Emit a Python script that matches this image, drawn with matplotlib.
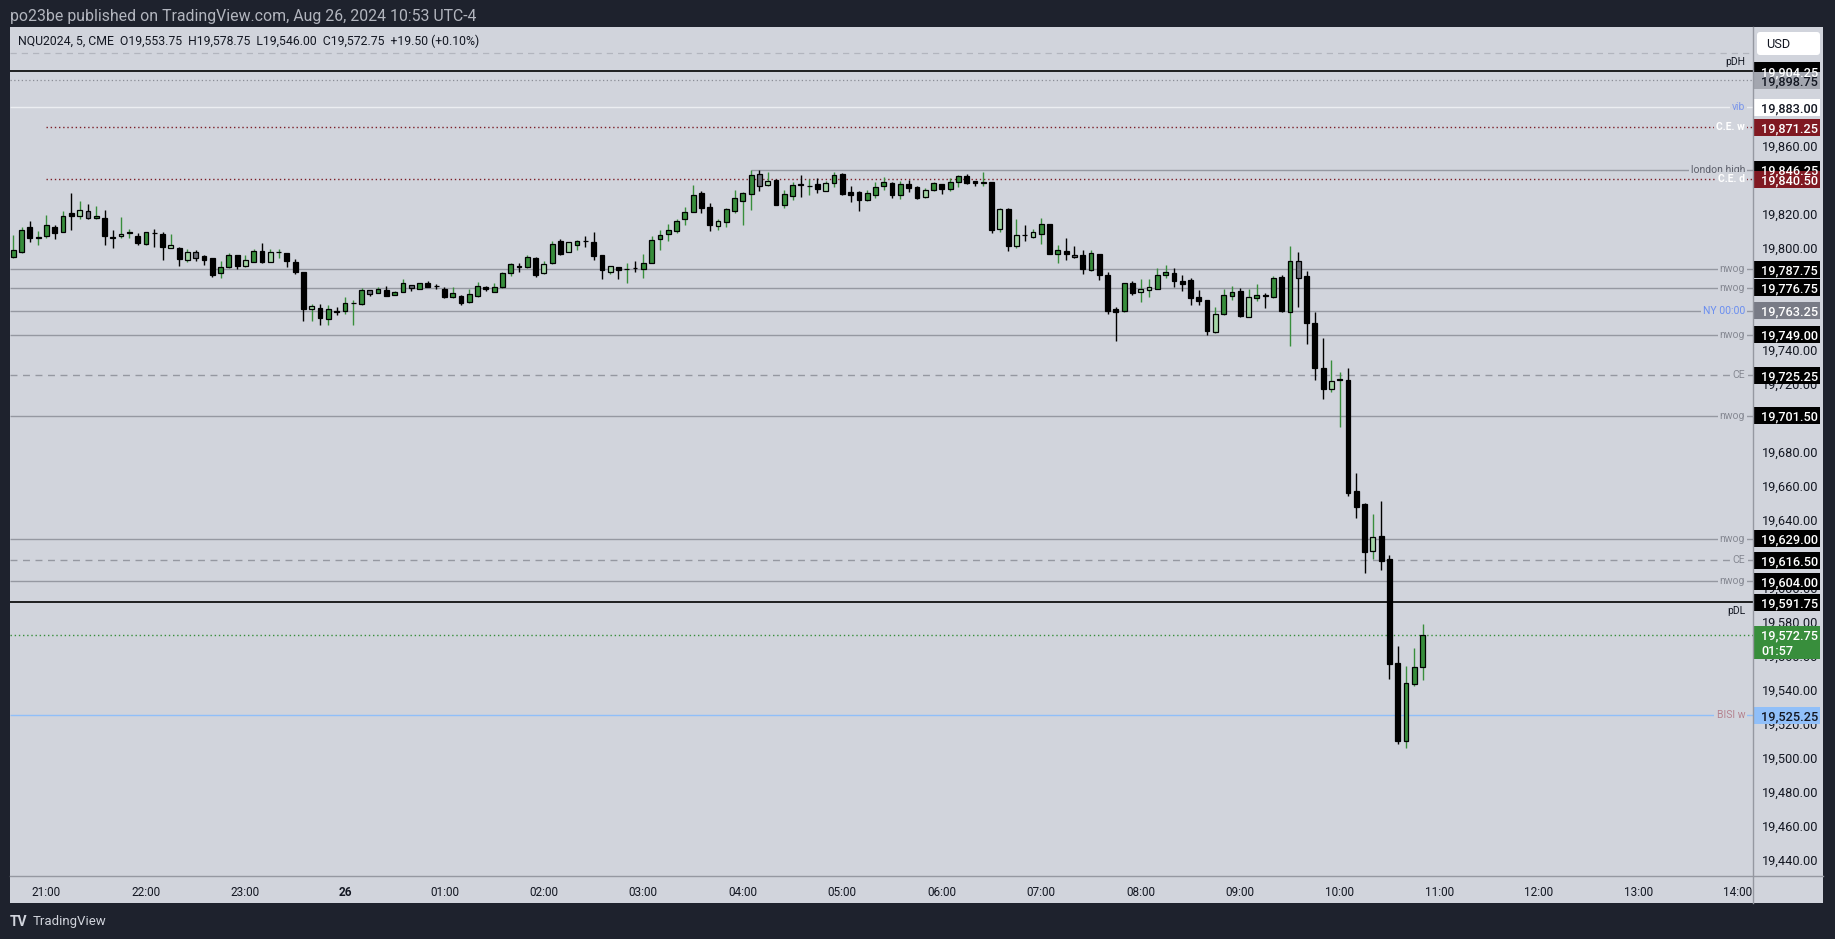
# NQU2024 5-min candles with level lines, TradingView style

import numpy as np
import pandas as pd
import matplotlib
matplotlib.use('Agg')
import matplotlib.pyplot as plt
from matplotlib.patches import Rectangle, FancyBboxPatch
from matplotlib.lines import Line2D
from matplotlib.transforms import Affine2D, blended_transform_factory

plt.rcParams['font.family'] = ['Roboto', 'DejaVu Sans']

W, H = 1835, 939
BG = '#1e222d'
PANEL = '#d1d4dc'

# bars start 2024-08-25 20:40, 5 min each
opens = [19795, 19797.5, 19812.25, 19806, 19807.25, 19812.25, 19809.75, 19820.75, 19819, 19821.75,
         19817.5, 19817.5, 19806.5, 19807, 19808.75, 19807.25, 19802.75, 19809, 19808.25, 19800.25,
         19800, 19793.25, 19797.75, 19795.25, 19794.25, 19785.5, 19789, 19795.75, 19789.75, 19792,
         19798.25, 19792, 19797.5, 19797.25, 19791.75, 19786, 19764.25, 19764.75, 19758.5, 19762.75,
         19763.25, 19767.5, 19767.25, 19775.25, 19773.75, 19775.25, 19772.75, 19774.25, 19778.25, 19776.25,
         19779.25, 19777.5, 19776, 19771, 19772, 19768.5, 19772, 19777, 19774.5, 19777,
         19785.5, 19789.25, 19788.75, 19794.5, 19785.25, 19791, 19804.25, 19797.75, 19802, 19804.25,
         19803.5, 19796, 19786, 19788.75, 19787.5, 19788.5, 19788, 19791.25, 19805.5, 19808.5,
         19810.25, 19817.25, 19821.5, 19832.5, 19824.25, 19813.25, 19815.5, 19822, 19828, 19832,
         19843.5, 19837, 19840, 19825.5, 19830.75, 19837.5, 19836.5, 19837.75, 19833.75, 19838.5,
         19843.5, 19833, 19833, 19828.25, 19831.5, 19836.75, 19838.25, 19831.5, 19837.75, 19836,
         19830.25, 19834.5, 19837.75, 19835, 19839, 19842.5, 19839.5, 19838.5, 19839, 19811.5,
         19823, 19801.5, 19807.75, 19806.75, 19808.5, 19814.25, 19796.75, 19798.25, 19796.25, 19796,
         19787.25, 19796.5, 19784, 19764, 19763, 19779.25, 19774.5, 19775.25, 19776, 19784,
         19785.5, 19780.5, 19781, 19771.25, 19769.25, 19750.75, 19761, 19772, 19774.75, 19759.75,
         19770.75, 19772.25, 19771.5, 19783, 19762.5, 19792.75, 19783.5, 19755.75, 19729.75, 19717,
         19722.5, 19722.75, 19657, 19649.25, 19621.75, 19630.5, 19617, 19555.75, 19510, 19543.5,
         19553.75]
highs = [19807.75, 19812.25, 19816, 19810, 19819.5, 19813.5, 19821.75, 19832.5, 19827.75, 19826,
         19824.75, 19822.5, 19810.75, 19818.25, 19811.25, 19808.75, 19809.5, 19811.25, 19809.5, 19808.25,
         19800.75, 19799.75, 19798.75, 19796.25, 19794.25, 19792.5, 19797, 19796, 19796, 19799.5,
         19803, 19799.75, 19799.75, 19797.25, 19793.5, 19786.25, 19767, 19767.25, 19766.5, 19765.25,
         19771.25, 19769.5, 19776.5, 19775.25, 19777, 19777.75, 19775, 19781.75, 19778.25, 19779.75,
         19780.75, 19778.75, 19777, 19777, 19772.5, 19775.75, 19780, 19778, 19779.25, 19786,
         19791.5, 19791, 19796, 19794.75, 19792.25, 19804.25, 19805.25, 19803.75, 19804.75, 19807,
         19809.5, 19796, 19789.25, 19788.75, 19791, 19792.25, 19796.5, 19807, 19810.5, 19814.25,
         19817, 19824.25, 19837, 19833.5, 19826.5, 19817, 19823.5, 19834, 19833, 19846.25,
         19846, 19844.75, 19840.5, 19834.25, 19839, 19843, 19840.5, 19841.25, 19839.25, 19844.75,
         19844, 19836.5, 19833.5, 19834.5, 19839, 19841.75, 19838.75, 19839.5, 19840, 19836.5,
         19835.25, 19839, 19837.75, 19841.25, 19843, 19843.5, 19839.5, 19844.75, 19839, 19823.5,
         19823.5, 19817, 19813.5, 19811, 19817.5, 19814.5, 19801.75, 19806, 19801, 19799,
         19799, 19796.75, 19786, 19765.25, 19779.5, 19780.75, 19781.75, 19781.75, 19788.25, 19790,
         19788.25, 19784.25, 19782.5, 19775.25, 19769.5, 19765.25, 19776, 19777.75, 19776.5, 19776,
         19779, 19773.5, 19783.5, 19784.25, 19801.5, 19797.5, 19786.5, 19762.25, 19747, 19734,
         19727, 19729.75, 19668, 19650, 19643.5, 19651.5, 19619.25, 19565.75, 19554.5, 19565,
         19578.75]
lows = [19794, 19797.25, 19803.75, 19801.75, 19806.25, 19805.25, 19809.25, 19810.75, 19817.25, 19817.25,
        19817.25, 19801.75, 19800, 19806.25, 19806, 19801.75, 19802, 19800.75, 19793, 19800.25,
        19789.5, 19791.75, 19792.5, 19790.25, 19783.25, 19782.75, 19788.5, 19787.75, 19788.75, 19791.75,
        19791.25, 19792, 19794.25, 19788.75, 19784.75, 19757.25, 19757.25, 19754.75, 19754.75, 19760.5,
        19761.5, 19754.75, 19766.5, 19772, 19773.5, 19772, 19772.75, 19774.25, 19775, 19776.25,
        19777.25, 19776, 19770.75, 19770.5, 19766.5, 19767.5, 19771.5, 19775, 19774.5, 19776.75,
        19783.75, 19786, 19788.5, 19783.25, 19785, 19790.5, 19795.75, 19797.5, 19799, 19800.75,
        19793, 19781.75, 19785, 19781.75, 19779.75, 19786, 19782.5, 19791, 19799, 19804.5,
        19809, 19813.75, 19821.25, 19820.75, 19810.25, 19810.75, 19812.5, 19820.75, 19813.5, 19822.5,
        19833.75, 19836.75, 19825.5, 19823.75, 19828.25, 19830.25, 19831.5, 19832.5, 19833.75, 19836,
        19831, 19827, 19821.75, 19827.75, 19829.75, 19834.5, 19829.75, 19828.75, 19833, 19828.75,
        19829.75, 19833.75, 19832, 19833.75, 19836, 19838, 19836.75, 19836.75, 19809, 19809.5,
        19798.5, 19800.25, 19804.5, 19806.25, 19802.5, 19796.5, 19791.5, 19793.25, 19794.25, 19785,
        19786.75, 19781.25, 19761.5, 19745.5, 19762.75, 19772.5, 19768.5, 19771.5, 19776, 19782.5,
        19777.25, 19775, 19766.75, 19766.75, 19749, 19750.25, 19760.75, 19769.75, 19759.75, 19759.75,
        19769, 19765, 19770.75, 19762.5, 19742.5, 19765.5, 19743.75, 19722.25, 19711.5, 19715.25,
        19694.75, 19654, 19641, 19609, 19617, 19610.5, 19546.5, 19508.25, 19506, 19542.5,
        19546]
closes = [19798.75, 19810.5, 19806.25, 19806.25, 19813.5, 19809, 19818.75, 19819, 19822.25, 19817.5,
          19818.75, 19807.25, 19806.25, 19808.25, 19809.75, 19803.25, 19809.25, 19808.75, 19800.75, 19801.75,
          19793.75, 19797.75, 19794.25, 19793.25, 19784.25, 19788.75, 19795.75, 19789.5, 19793, 19798.25,
          19791.75, 19797.75, 19797.75, 19792.75, 19786, 19764.25, 19766, 19758.75, 19764, 19762.75,
          19767.5, 19767.75, 19775.25, 19773.25, 19776, 19772, 19774.5, 19779.75, 19776.75, 19779.25,
          19777.25, 19777.5, 19771.5, 19773.5, 19767.5, 19773, 19777.75, 19775.75, 19777, 19785.25,
          19790.5, 19789, 19794.75, 19784.5, 19790.5, 19802.75, 19796.75, 19803.5, 19804.25, 19804,
          19795.5, 19787.25, 19789.25, 19787.25, 19787.75, 19788.25, 19791, 19804.75, 19807.75, 19810.5,
          19816, 19821.25, 19831.25, 19823.75, 19813.75, 19816.25, 19822.75, 19829.5, 19832.5, 19843,
          19836.75, 19839.25, 19825.5, 19831.75, 19837, 19837.25, 19836.75, 19835, 19838.25, 19843,
          19832, 19831.5, 19828.5, 19832.5, 19836, 19838.75, 19831.5, 19837.75, 19835.5, 19829.25,
          19834.5, 19838.25, 19835, 19839, 19842.25, 19838.5, 19838.5, 19838.75, 19810.5, 19823.25,
          19801.5, 19808, 19807.5, 19809.75, 19814.5, 19796.75, 19798.75, 19796.75, 19795, 19788,
          19797, 19784.5, 19763.25, 19762.5, 19779.25, 19773.75, 19775.75, 19777, 19784, 19785.75,
          19780.75, 19779, 19770.75, 19769, 19751.5, 19761, 19772.75, 19774.5, 19760.25, 19771.25,
          19772.75, 19772, 19782.5, 19763, 19792.25, 19782.5, 19756, 19729.5, 19717, 19722,
          19722.75, 19656.25, 19648, 19621.25, 19630.25, 19616.25, 19555.25, 19510, 19544.5, 19553.75,
          19572.75]
# u = green, d = black, p = pale green, g = grey
kinds = list("uuduududpg" "uddpududdp" "dpgdduudpu" "dpudddpdud" "uuuguduugu"
             "ddduduuduu" "ududpudpud" "ddpduduuuu" "uuuddpuuuu" "gpduududpu"
             "ddduuududd" "puduuddudp" "dpdpududgd" "udddudppuu" "dddddpuudp"
             "ududugdddp" "udddpddduuu")

start = pd.Timestamp('2024-08-25 20:40')
hour_times = pd.date_range('2024-08-25 21:00', '2024-08-26 14:00', freq='h')
hour_labels = ['21:00', '22:00', '23:00', '26', '01:00', '02:00', '03:00', '04:00', '05:00',
               '06:00', '07:00', '08:00', '09:00', '10:00', '11:00', '12:00', '13:00', '14:00']

level_prices = [19915.00, 19904.25, 19898.75, 19883.00, 19871.25, 19846.25, 19840.50,
                19787.75, 19776.75, 19763.25, 19749.00, 19725.25, 19701.50,
                19629.00, 19616.50, 19604.00, 19591.75, 19572.75, 19525.25]
level_names = ['', 'pDH', '', 'vib', 'C.E. w', 'london high', 'C.E. d',
               'nwog', 'nwog', 'NY 00:00', 'nwog', 'CE', 'nwog',
               'nwog', 'CE', 'nwog', 'pDL', '', 'BISI w']
level_kind = ['top', 'pd', 'dot', 'vib', 'ce_red', 'london', 'ce_red',
              'nwog', 'nwog', 'ny', 'nwog', 'ce', 'nwog',
              'nwog', 'ce', 'nwog', 'pd', 'last', 'bisi']
price_ticks = np.arange(19440, 19921, 20)
bar_timer = '01:57'

line_style = {
    'top':    dict(color='#b2b5be', ls=(0, (5, 4)), lw=0.9),
    'pd':     dict(color='#000000', ls='-', lw=1.2),
    'dot':    dict(color='#8a8d96', ls=(0, (1, 2)), lw=0.9),
    'vib':    dict(color='#eceef2', ls='-', lw=1.0),
    'ce_red': dict(color='#7d1f28', ls=(0, (1, 2)), lw=1.0),
    'london': dict(color='#9598a1', ls='-', lw=1.0),
    'nwog':   dict(color='#9598a1', ls='-', lw=1.0),
    'ny':     dict(color='#9598a1', ls='-', lw=1.0),
    'ce':     dict(color='#9598a1', ls=(0, (5, 4)), lw=1.0),
    'last':   dict(color='#388e3c', ls=(0, (1, 2)), lw=1.0),
    'bisi':   dict(color='#90bff9', ls='-', lw=1.0),
}
label_color = {'pd': '#131722', 'vib': '#7b96ea', 'ce_red': '#ffffff', 'london': '#5d606b',
               'nwog': '#868993', 'ny': '#6a8ef0', 'ce': '#868993', 'bisi': '#b5838f'}
tag_color = {'pd': ('#000000', '#ffffff'), 'dot': ('#a3a6af', '#131722'),
             'vib': ('#ffffff', '#131722'), 'ce_red': ('#801922', '#ffffff'),
             'london': ('#000000', '#ffffff'), 'nwog': ('#000000', '#ffffff'),
             'ny': ('#787b86', '#ffffff'), 'ce': ('#000000', '#ffffff'),
             'last': ('#388e3c', '#ffffff'), 'bisi': ('#90bff9', '#131722')}
line_start = {'ce_red': 4, 'london': 89}

body_col = {'u': '#388e3c', 'd': '#000000', 'p': '#a5d6a7', 'g': '#6b6e78'}
wick_col = {'u': '#388e3c', 'd': '#000000', 'p': '#388e3c', 'g': '#000000'}

fig = plt.figure(figsize=(W / 100, H / 100), dpi=100, facecolor=BG)
px = Affine2D().scale(1 / W, 1 / H) + fig.transFigure

# panel + separators
fig.add_artist(Rectangle((10, H - 903), 1813, 876, transform=px, fc=PANEL, ec='none', zorder=-5))
ax = fig.add_axes([10 / W, 1 - 876 / H, 1743 / W, 849 / H])
ax.set_facecolor(PANEL)
for s in ax.spines.values():
    s.set_visible(False)
fig.add_artist(Line2D([1753, 1753], [H - 27, H - 903], transform=px, color='#9598a1', lw=1, zorder=15))
fig.add_artist(Line2D([10, 1823], [H - 876, H - 876], transform=px, color='#9598a1', lw=1, zorder=15))

ybot, ytop = 19430.7, 19930.1
ax.set_ylim(ybot, ytop)
ax.set_xlim(-0.4, 209.85)
ppu = 849 / (ytop - ybot)

# candles
o, h, l, c = map(np.array, (opens, highs, lows, closes))
x = np.arange(len(o))
ax.vlines(x, l, h, colors=[wick_col[k] for k in kinds], lw=1.0, zorder=3)
bottom = np.minimum(o, c)
height = np.maximum(np.abs(c - o), 0.3)
ax.bar(x, height, bottom=bottom, width=0.58, color=[body_col[k] for k in kinds],
       edgecolor='#000000', linewidth=0.9, zorder=4)

# levels
tr = blended_transform_factory(ax.transAxes, ax.transData)
xr = ax.get_xlim()[1]
lab_x = (1745 - 10) / 1743
for p, name, kind in zip(level_prices, level_names, level_kind):
    st = line_style[kind]
    ax.hlines(p, line_start.get(kind, -0.4), xr, colors=st['color'], linestyles=st['ls'],
              lw=st['lw'], zorder=2)
    if not name:
        continue
    if kind == 'pd':
        off = 3 if name == 'pDH' else -3
        ax.annotate(name, (lab_x, p), xycoords=tr, xytext=(0, off), textcoords='offset points',
                    ha='right', va='bottom' if off > 0 else 'top', fontsize=7.5,
                    color=label_color[kind], zorder=6)
    else:
        ax.text(lab_x, p, name, transform=tr, ha='right', va='center', fontsize=7.5,
                color=label_color[kind], fontweight='bold' if kind == 'ce_red' else 'normal',
                bbox=dict(fc=PANEL, ec='none', pad=1.5), zorder=6)

# price scale: scale values that sit right under a tag (or the USD button) stay hidden
tag_levels = np.array([p for p, k in zip(level_prices, level_kind) if k in tag_color])
usd_bottom = ytop - (55 - 27) / ppu
tick_text = []
for t in price_ticks:
    covered = np.min(np.abs(tag_levels - t)) * ppu < 6 or t > usd_bottom
    tick_text.append('' if covered else f'{t:,.2f}')
ax.yaxis.tick_right()
ax.set_yticks(price_ticks)
ax.set_yticklabels(tick_text)
ax.tick_params(axis='y', length=0, pad=6.5, labelsize=9.2, labelcolor='#131722')

# time scale
xt = [(t - start) / pd.Timedelta('5min') for t in hour_times]
ax.set_xticks(xt)
ax.set_xticklabels(hour_labels)
ax.tick_params(axis='x', length=0, pad=7, labelsize=8.5, labelcolor='#131722')
ax.get_xticklabels()[3].set_fontweight('bold')

# price tags
tag_x0, tag_w, txt_x = (1754 - 10) / 1743, 66 / 1743, (1761 - 10) / 1743
for p, kind in zip(level_prices, level_kind):
    if kind not in tag_color:
        continue
    fc, tc = tag_color[kind]
    if kind == 'last':
        ax.add_patch(Rectangle((tag_x0, p - 24 / ppu), tag_w, 33 / ppu, transform=tr, fc=fc,
                               ec='none', clip_on=False, zorder=10))
        ax.text(txt_x, p - 15.5 / ppu, bar_timer, transform=tr, ha='left', va='center_baseline',
                fontsize=9.2, color=tc, fontweight='medium', clip_on=False, zorder=11)
    else:
        ax.add_patch(Rectangle((tag_x0, p - 8.5 / ppu), tag_w, 17 / ppu, transform=tr, fc=fc,
                               ec='none', clip_on=False, zorder=10))
    ax.text(txt_x, p, f'{p:,.2f}', transform=tr, ha='left', va='center_baseline', fontsize=9.2,
            color=tc, fontweight='medium', clip_on=False, zorder=11)

# USD button
fig.add_artist(FancyBboxPatch((1757, H - 55), 63, 23, boxstyle='round,pad=0,rounding_size=3',
                              transform=px, fc='#ffffff', ec='none', zorder=20))
fig.text(1766, H - 44, 'USD', transform=px, fontsize=9.2, color='#131722', va='center', zorder=21)

# header / footer texts
fig.text(10, H - 16, 'po23be published on TradingView.com, Aug 26, 2024 10:53 UTC-4', transform=px,
         fontsize=11.4, color='#b2b5be', va='center')
fig.text(18, H - 41, 'NQU2024, 5, CME  O19,553.75  H19,578.75  L19,546.00  C19,572.75  +19.50 (+0.10%)',
         transform=px, fontsize=8.8, color='#131722', va='center', zorder=20)
fig.text(10, H - 922, 'TV', transform=px, fontsize=10, fontweight='bold', color='#d1d4dc', va='center')
fig.text(33, H - 922, 'TradingView', transform=px, fontsize=9.5, color='#d1d4dc', va='center')

fig.savefig('out.png', dpi=100, facecolor=BG)
